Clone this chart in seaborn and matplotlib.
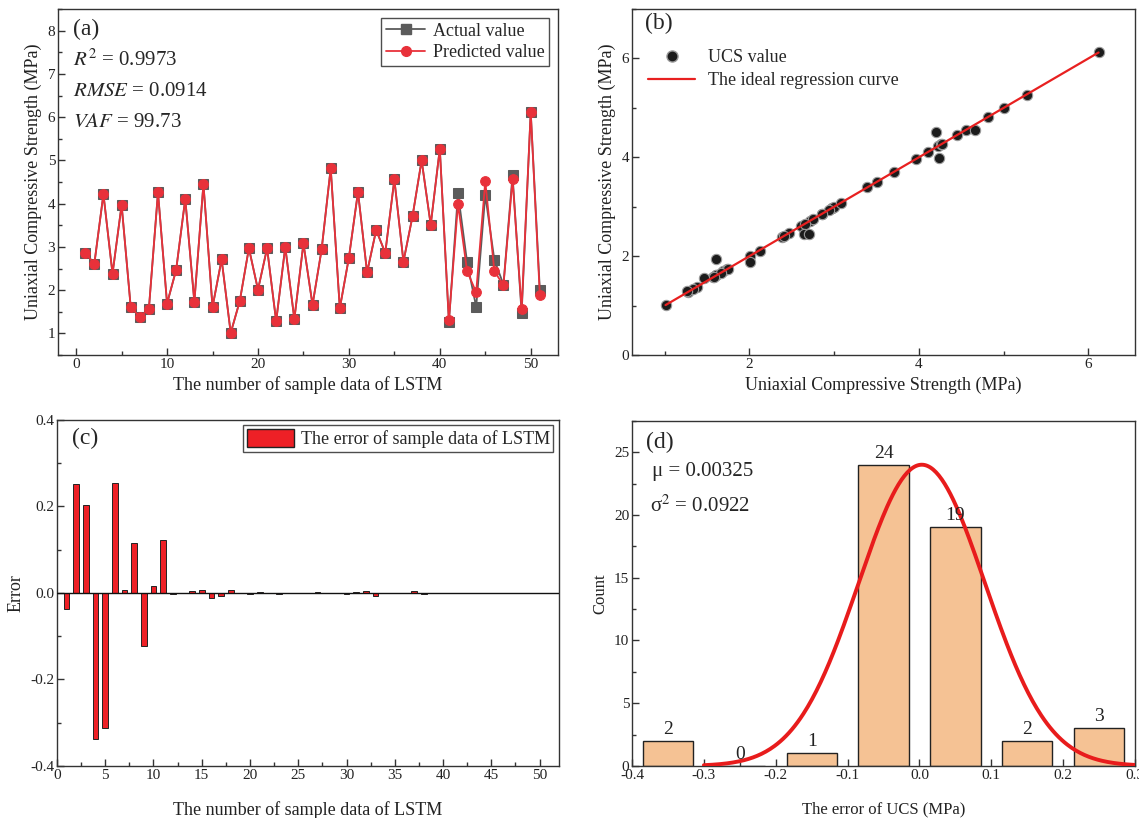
import numpy as np
import pandas as pd
import matplotlib
matplotlib.use("Agg")
import matplotlib.pyplot as plt
import seaborn as sns
from matplotlib.ticker import MultipleLocator
from matplotlib.lines import Line2D

# sample index 1..51
sample_no = list(range(1, 52))

actual_ucs = [2.86, 2.61, 4.22, 2.38, 3.97, 1.61, 1.38, 1.57, 4.26, 1.69,
              2.47, 4.11, 1.73, 4.45, 1.61, 2.71, 1.01, 1.75, 2.97, 2.01,
              2.97, 1.28, 3.00, 1.33, 3.08, 1.66, 2.94, 4.82, 1.58, 2.75,
              4.27, 2.41, 3.39, 2.86, 4.56, 2.66, 3.71, 5.00, 3.51, 5.27,
              1.26, 4.24, 2.65, 1.61, 4.20, 2.70, 2.13, 4.66, 1.46, 6.12,
              2.01]
predicted_ucs = [2.86, 2.61, 4.22, 2.38, 3.97, 1.61, 1.38, 1.57, 4.26, 1.69,
                 2.47, 4.11, 1.73, 4.45, 1.61, 2.71, 1.01, 1.75, 2.97, 2.01,
                 2.97, 1.28, 3.00, 1.33, 3.08, 1.66, 2.94, 4.82, 1.58, 2.75,
                 4.27, 2.41, 3.39, 2.86, 4.56, 2.66, 3.71, 5.00, 3.51, 5.27,
                 1.30, 3.99, 2.44, 1.95, 4.52, 2.44, 2.11, 4.56, 1.56, 6.12,
                 1.89]

# error of each sample (panel c)
sample_error = [-0.036, 0.251, 0.203, -0.337, -0.313, 0.254, 0.007, 0.115, -0.123, 0.015,
                0.123, -0.003, -0.001, 0.004, 0.006, -0.011, -0.006, 0.007, 0.001, -0.003,
                0.002, 0.001, -0.002, 0.0, 0.001, -0.001, 0.002, -0.001, -0.001, -0.002,
                0.002, 0.004, -0.006, -0.001, 0.0, -0.001, 0.004, -0.002, -0.001, 0.001,
                0.0, 0.0, 0.0, 0.0, 0.0, 0.0, 0.0, 0.0, 0.0, 0.0,
                0.0]

# histogram of errors (panel d)
bin_centers = [-0.35, -0.25, -0.15, -0.05, 0.05, 0.15, 0.25]
bin_counts = [2, 0, 1, 24, 19, 2, 3]
mu = 0.00325
sigma = 0.088
curve_peak = 24

df_a = pd.DataFrame({"no": sample_no, "actual": actual_ucs, "pred": predicted_ucs})
df_c = pd.DataFrame({"no": sample_no, "err": sample_error})

sns.set_style("ticks")
plt.rcParams["font.family"] = ["Liberation Serif", "DejaVu Serif"]
plt.rcParams["mathtext.fontset"] = "stix"
plt.rcParams["axes.linewidth"] = 1.0
plt.rcParams["axes.edgecolor"] = "#333333"
plt.rcParams["xtick.direction"] = "in"
plt.rcParams["ytick.direction"] = "in"

grey = "#5b5b5b"
red = "#e8313a"

fig = plt.figure(figsize=(11.39, 8.18), dpi=100)
ax_a = fig.add_axes([0.0509, 0.566, 0.439, 0.423])
ax_b = fig.add_axes([0.5549, 0.566, 0.4416, 0.423])
ax_c = fig.add_axes([0.0500, 0.0636, 0.4407, 0.423])
ax_d = fig.add_axes([0.5549, 0.0636, 0.4416, 0.422])


def style_ticks(ax, xmaj, xmin, ymaj, ymin):
    ax.xaxis.set_major_locator(MultipleLocator(xmaj))
    ax.xaxis.set_minor_locator(MultipleLocator(xmin))
    ax.yaxis.set_major_locator(MultipleLocator(ymaj))
    ax.yaxis.set_minor_locator(MultipleLocator(ymin))
    ax.tick_params(which="major", length=5, width=1, labelsize=11, colors="#333333",
                   labelcolor="#222222", pad=2)
    ax.tick_params(which="minor", length=3, width=1, colors="#333333")


# ---- (a) actual vs predicted line
sns.lineplot(data=df_a, x="no", y="actual", ax=ax_a, color=grey, marker="s",
             markersize=7, markeredgecolor=grey, linewidth=1.3)
sns.lineplot(data=df_a, x="no", y="pred", ax=ax_a, color=red, marker="o",
             markersize=7, markeredgecolor=red, linewidth=1.3)
ax_a.set_xlim(-2, 53)
ax_a.set_ylim(0.5, 8.5)
style_ticks(ax_a, 10, 5, 1, 0.5)
ax_a.set_xlabel("The number of sample data of LSTM", fontsize=13, color="#222222")
ax_a.set_ylabel("Uniaxial Compressive Strength (MPa)", fontsize=13, color="#222222")
ax_a.text(0.03, 0.94, "(a)", transform=ax_a.transAxes, fontsize=17, va="center")
ax_a.text(0.03, 0.852, r"$R^2$ = 0.9973", transform=ax_a.transAxes, fontsize=15, va="center")
ax_a.text(0.03, 0.763, r"$RMSE$ = 0.0914", transform=ax_a.transAxes, fontsize=15, va="center")
ax_a.text(0.03, 0.673, r"$VAF$ = 99.73", transform=ax_a.transAxes, fontsize=15, va="center")
h_a = [Line2D([], [], color=grey, marker="s", markersize=7, lw=1.3),
       Line2D([], [], color=red, marker="o", markersize=7, lw=1.3)]
leg = ax_a.legend(h_a, ["Actual value", "Predicted value"], loc="upper right",
                  fontsize=13, frameon=True, fancybox=False, edgecolor="#222222",
                  borderpad=0.25, handlelength=2.2, handletextpad=0.4, labelspacing=0.25,
                  borderaxespad=0.5)
leg.get_frame().set_linewidth(1.0)

# ---- (b) scatter of actual vs predicted with ideal line
ideal = pd.DataFrame({"x": [min(actual_ucs), max(actual_ucs)],
                      "y": [min(actual_ucs), max(actual_ucs)]})
sns.scatterplot(data=df_a, x="actual", y="pred", ax=ax_b, color="#1c1c1c",
                edgecolor="#9a9a9a", linewidth=0.8, s=55, zorder=3)
sns.lineplot(data=ideal, x="x", y="y", ax=ax_b, color="#e82020", linewidth=1.6, zorder=4)
ax_b.set_xlim(0.615, 6.55)
ax_b.set_ylim(0, 7)
style_ticks(ax_b, 2, 1, 2, 1)
ax_b.set_xlabel("Uniaxial Compressive Strength (MPa)", fontsize=13, color="#222222")
ax_b.set_ylabel("Uniaxial Compressive Strength (MPa)", fontsize=13, color="#222222")
ax_b.text(0.025, 0.957, "(b)", transform=ax_b.transAxes, fontsize=17, va="center")
h_b = [Line2D([], [], color="#1c1c1c", marker="o", markeredgecolor="#9a9a9a",
              markersize=8, lw=0),
       Line2D([], [], color="#e82020", lw=1.6)]
ax_b.legend(h_b, ["UCS value", "The ideal regression curve"], loc="upper left",
            fontsize=13, frameon=False, bbox_to_anchor=(0.0, 0.93),
            handlelength=2.6, handletextpad=0.7, labelspacing=0.3)

# ---- (c) error bars
ax_c.bar(df_c["no"], df_c["err"], width=0.6, color="#ee2026", edgecolor="#222222",
         linewidth=0.7, zorder=3)
ax_c.axhline(0, color="#111111", linewidth=1.0, zorder=4)
ax_c.set_xlim(0, 52)
ax_c.set_ylim(-0.4, 0.4)
style_ticks(ax_c, 5, 2.5, 0.2, 0.1)
ax_c.yaxis.set_major_formatter(matplotlib.ticker.FormatStrFormatter("%.1f"))
ax_c.set_xlabel("The number of sample data of LSTM", fontsize=13, color="#222222",
                labelpad=14)
ax_c.set_ylabel("Error", fontsize=13, color="#222222")
ax_c.text(0.029, 0.948, "(c)", transform=ax_c.transAxes, fontsize=17, va="center")
h_c = [matplotlib.patches.Patch(facecolor="#ee2026", edgecolor="#222222")]
leg_c = ax_c.legend(h_c, ["The error of sample data of LSTM"], loc="upper right",
                    fontsize=13, frameon=True, fancybox=False, edgecolor="#222222",
                    borderpad=0.2, handlelength=2.6, handleheight=1.2,
                    handletextpad=0.4, borderaxespad=0.3)
leg_c.get_frame().set_linewidth(1.0)

# ---- (d) histogram of errors with normal curve
ax_d.bar(bin_centers, bin_counts, width=0.07, color="#f5c294", edgecolor="#222222",
         linewidth=1.0, zorder=2)
for xc, cnt in zip(bin_centers, bin_counts):
    ax_d.text(xc, cnt + 0.25, str(cnt), ha="center", va="bottom", fontsize=14,
              color="#222222", zorder=5)
xs = np.linspace(-0.3, 0.3, 300)
ys = curve_peak * np.exp(-0.5 * ((xs - mu) / sigma) ** 2)
sns.lineplot(x=xs, y=ys, ax=ax_d, color="#e81c1c", linewidth=2.8, zorder=4)
ax_d.set_xlim(-0.4, 0.3)
ax_d.set_ylim(0, 27.5)
style_ticks(ax_d, 0.1, 0.05, 5, 2.5)
ax_d.xaxis.set_major_formatter(matplotlib.ticker.FormatStrFormatter("%.1f"))
ax_d.set_xlabel("The error of UCS (MPa)", fontsize=12, color="#222222", labelpad=14)
ax_d.set_ylabel("Count", fontsize=12, color="#222222")
ax_d.text(0.028, 0.936, "(d)", transform=ax_d.transAxes, fontsize=17, va="center")
ax_d.text(0.04, 0.853, "\u03bc = 0.00325", transform=ax_d.transAxes, fontsize=15, va="center")
ax_d.text(0.035, 0.754, "\u03c3$^2$ = 0.0922", transform=ax_d.transAxes, fontsize=15,
          va="center")

for ax in (ax_a, ax_b, ax_c, ax_d):
    for sp in ax.spines.values():
        sp.set_visible(True)

fig.savefig("out.png", dpi=100)
